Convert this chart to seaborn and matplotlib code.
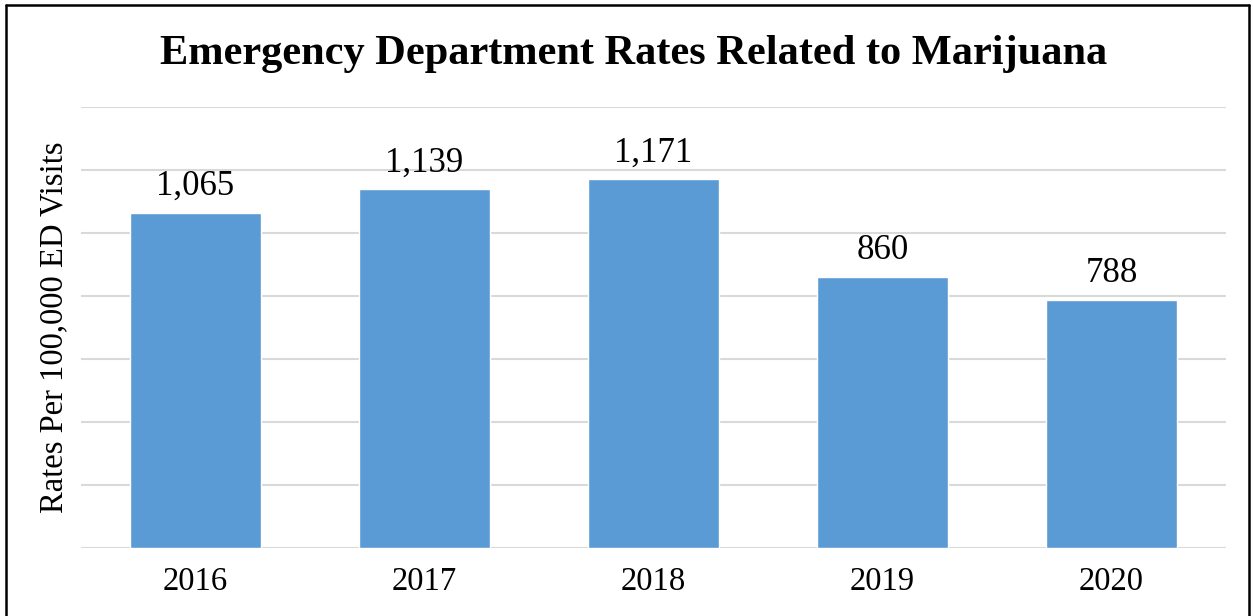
import matplotlib
matplotlib.use("Agg")
import matplotlib.pyplot as plt
import seaborn as sns
import pandas as pd
from matplotlib.lines import Line2D

years = ["2016", "2017", "2018", "2019", "2020"]
rates = [1065, 1139, 1171, 860, 788]
labels = ["1,065", "1,139", "1,171", "860", "788"]

sns.set_style("white")
plt.rcParams["font.family"] = ["Liberation Serif", "DejaVu Serif"]
plt.rcParams["text.color"] = "black"
plt.rcParams["axes.labelcolor"] = "black"
plt.rcParams["xtick.color"] = "black"

df = pd.DataFrame({"year": years, "rate": rates})

fig = plt.figure(figsize=(12.53, 6.16), dpi=100, facecolor="white")
ax = fig.add_axes([0.0646, 0.1104, 0.9139, 0.7159])

sns.barplot(data=df, x="year", y="rate", color="#5B9BD5", saturation=1,
            width=0.57, ax=ax, zorder=3)

ax.set_ylim(0, 1400)
ax.set_xlim(-0.5, 4.5)
ax.set_yticks(range(0, 1401, 200))
ax.set_yticklabels([])
ax.tick_params(axis="y", length=0)
ax.tick_params(axis="x", length=0, labelsize=23.5, pad=13)
ax.yaxis.grid(True, color="#D9D9D9", linewidth=1.5, zorder=0)
for s in ["top", "right", "left", "bottom"]:
    ax.spines[s].set_visible(False)

for i, (v, lab) in enumerate(zip(rates, labels)):
    ax.annotate(lab, (i, v), xytext=(0, 7), textcoords="offset points",
                ha="center", va="bottom", fontsize=25)

ax.set_xlabel("")
ax.set_ylabel("Rates Per 100,000 ED Visits", fontsize=23.5, labelpad=5)

fig.text(0.5058, 0.913, "Emergency Department Rates Related to Marijuana",
         ha="center", va="center", fontsize=30.5, fontweight="bold")

# outer frame
for xs, ys in [([0.005, 0.005], [0, 0.992]), ([0.005, 0.997], [0.992, 0.992]),
               ([0.997, 0.997], [0, 0.992])]:
    fig.add_artist(Line2D(xs, ys, color="black", linewidth=1.8, transform=fig.transFigure))

plt.savefig("out.png", dpi=100, facecolor="white")
